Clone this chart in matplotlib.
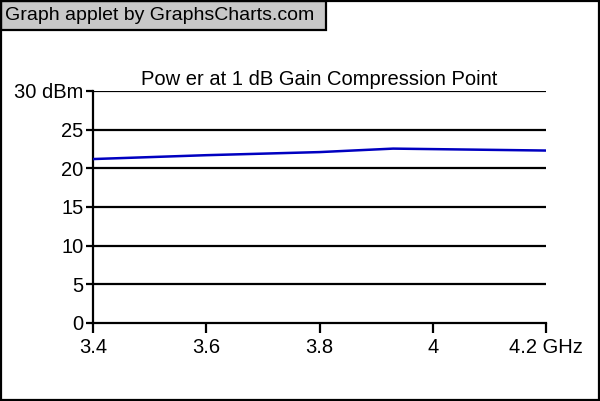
import matplotlib
matplotlib.use("Agg")
import matplotlib.pyplot as plt
from matplotlib.patches import Rectangle

freq = [3.4, 3.6, 3.8, 3.93, 4.2]
power = [21.2, 21.7, 22.1, 22.55, 22.3]
xticks = [3.4, 3.6, 3.8, 4.0, 4.2]
xlabels = ["3.4", "3.6", "3.8", "4", "4.2 GHz"]
yticks = [0, 5, 10, 15, 20, 25, 30]
ylabels = ["0", "5", "10", "15", "20", "25", "30 dBm"]
title = "Pow er at 1 dB Gain Compression Point"
header = "Graph applet by GraphsCharts.com"

plt.rcParams['font.family'] = ['Liberation Sans', 'DejaVu Sans']

W, H = 600, 401
fig = plt.figure(figsize=(6, 4.01), dpi=100)
ax = fig.add_axes([93 / W, 1 - 323 / H, (546 - 93) / W, (323 - 91) / H])

for y in yticks[1:]:
    ax.axhline(y, color='black', lw=1.6, zorder=1)
ax.plot(freq, power, color='#0000c0', lw=1.8, zorder=3)

ax.set_xlim(3.4, 4.2)
ax.set_ylim(0, 30)
ax.set_xticks(xticks)
ax.set_xticklabels(xlabels, fontsize=14.5)
ax.set_yticks(yticks)
ax.set_yticklabels(ylabels, fontsize=14.5)
for s in ['top', 'right']:
    ax.spines[s].set_visible(False)
for s in ['left', 'bottom']:
    ax.spines[s].set_linewidth(1.6)
ax.tick_params(axis='x', direction='out', length=7, width=1.6, pad=4)
ax.tick_params(axis='y', direction='out', length=5, width=1.6, pad=2)
ax.set_title(title, fontsize=14.5, pad=4)

# outer border and header box
fig.patches.append(Rectangle((1 / W, 1 / H), (W - 2) / W, (H - 2) / H,
                             transform=fig.transFigure, fill=False,
                             edgecolor='black', lw=1.6, zorder=10))
fig.patches.append(Rectangle((1 / W, 1 - 30 / H), 325 / W, 29 / H,
                             transform=fig.transFigure, facecolor='#c8c8c8',
                             edgecolor='black', lw=1.6, zorder=9))
fig.text(5 / W, 1 - 15 / H, header, fontsize=14, va='center', ha='left', zorder=11)

fig.savefig("out.png", dpi=100)
